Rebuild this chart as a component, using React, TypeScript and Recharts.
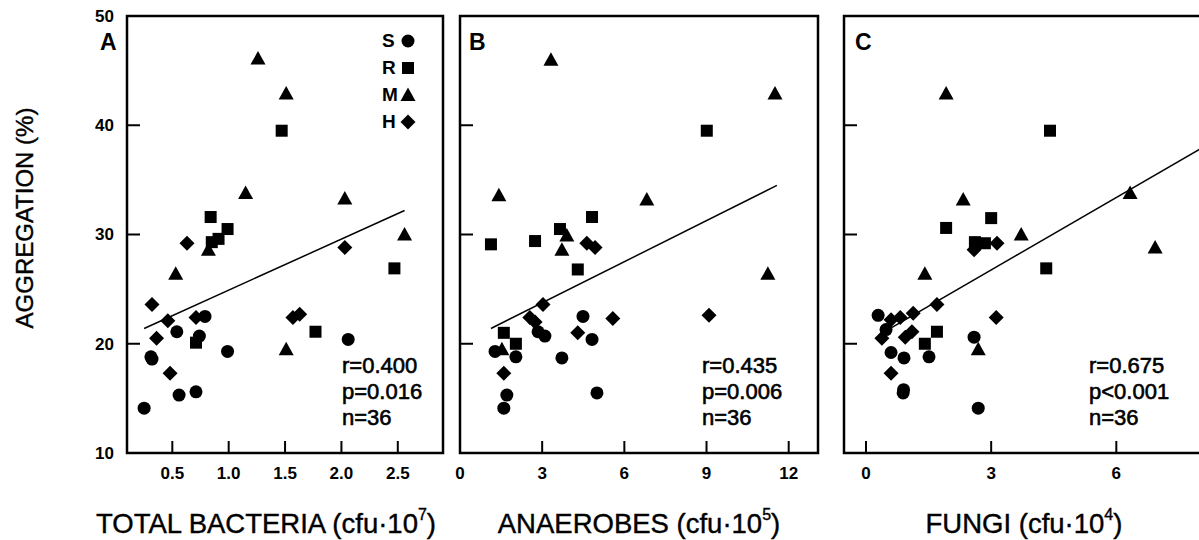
import React from 'react';
import {
  ScatterChart,
  Scatter,
  XAxis,
  YAxis,
  ReferenceLine,
  ReferenceArea,
  Legend,
} from 'recharts';

const FONT = '"Liberation Sans", Arial, Helvetica, sans-serif';

type Pt = { x: number; y: number };
type Kind = 'S' | 'R' | 'M' | 'H';

const groups: Kind[] = ['S', 'R', 'M', 'H'];

// A: aggregation (%) vs total bacteria (cfu·10^7)
const bactS: Pt[] = [
  { x: 0.25, y: 14.1 }, { x: 0.31, y: 18.8 }, { x: 0.32, y: 18.6 }, { x: 0.56, y: 15.3 },
  { x: 0.71, y: 15.6 }, { x: 0.54, y: 21.1 }, { x: 0.74, y: 20.7 }, { x: 0.79, y: 22.5 },
  { x: 0.99, y: 19.3 }, { x: 2.06, y: 20.4 },
];
const bactR: Pt[] = [
  { x: 1.47, y: 39.5 }, { x: 0.84, y: 31.6 }, { x: 0.99, y: 30.5 }, { x: 0.85, y: 29.3 },
  { x: 0.91, y: 29.6 }, { x: 2.47, y: 26.9 }, { x: 1.77, y: 21.1 }, { x: 0.71, y: 20.1 },
];
const bactM: Pt[] = [
  { x: 1.26, y: 46.1 }, { x: 1.51, y: 42.9 }, { x: 1.15, y: 33.8 }, { x: 2.03, y: 33.3 },
  { x: 2.56, y: 30.0 }, { x: 0.82, y: 28.6 }, { x: 0.53, y: 26.4 }, { x: 1.51, y: 19.5 },
];
const bactH: Pt[] = [
  { x: 0.63, y: 29.2 }, { x: 2.03, y: 28.8 }, { x: 0.32, y: 23.6 }, { x: 0.46, y: 22.1 },
  { x: 0.36, y: 20.5 }, { x: 0.48, y: 17.3 }, { x: 0.71, y: 22.4 }, { x: 1.57, y: 22.4 },
  { x: 1.63, y: 22.7 },
];
const bactFit: Pt[] = [{ x: 0.25, y: 21.4 }, { x: 2.56, y: 32.2 }];

// B: anaerobes (cfu·10^5)
const anaS: Pt[] = [
  { x: 4.49, y: 22.5 }, { x: 2.85, y: 21.1 }, { x: 3.1, y: 20.7 }, { x: 4.82, y: 20.4 },
  { x: 1.28, y: 19.3 }, { x: 2.04, y: 18.8 }, { x: 3.72, y: 18.7 }, { x: 5.0, y: 15.5 },
  { x: 1.71, y: 15.3 }, { x: 1.6, y: 14.1 },
];
const anaR: Pt[] = [
  { x: 9.01, y: 39.5 }, { x: 4.82, y: 31.6 }, { x: 3.65, y: 30.5 }, { x: 2.74, y: 29.4 },
  { x: 1.13, y: 29.1 }, { x: 4.3, y: 26.8 }, { x: 1.6, y: 21.0 }, { x: 2.04, y: 20.0 },
];
const anaM: Pt[] = [
  { x: 3.32, y: 46.0 }, { x: 11.5, y: 42.9 }, { x: 1.42, y: 33.6 }, { x: 6.82, y: 33.2 },
  { x: 3.9, y: 29.9 }, { x: 3.72, y: 28.6 }, { x: 11.24, y: 26.4 }, { x: 1.53, y: 19.5 },
];
const anaH: Pt[] = [
  { x: 4.63, y: 29.2 }, { x: 4.93, y: 28.8 }, { x: 3.03, y: 23.6 }, { x: 2.55, y: 22.4 },
  { x: 2.74, y: 22.0 }, { x: 5.58, y: 22.3 }, { x: 9.09, y: 22.6 }, { x: 4.3, y: 21.0 },
  { x: 1.6, y: 17.3 },
];
const anaFit: Pt[] = [{ x: 1.13, y: 21.4 }, { x: 11.57, y: 34.5 }];

// C: fungi (cfu·10^4)
const fungiS: Pt[] = [
  { x: 0.29, y: 22.6 }, { x: 0.48, y: 21.3 }, { x: 2.59, y: 20.6 }, { x: 0.6, y: 19.2 },
  { x: 0.91, y: 18.7 }, { x: 1.51, y: 18.8 }, { x: 0.89, y: 15.5 }, { x: 0.9, y: 15.8 },
  { x: 2.69, y: 14.1 },
];
const fungiR: Pt[] = [
  { x: 4.41, y: 39.5 }, { x: 3.0, y: 31.5 }, { x: 1.92, y: 30.6 }, { x: 2.61, y: 29.3 },
  { x: 2.85, y: 29.2 }, { x: 4.32, y: 26.9 }, { x: 1.7, y: 21.1 }, { x: 1.41, y: 20.0 },
];
const fungiM: Pt[] = [
  { x: 1.92, y: 42.9 }, { x: 2.33, y: 33.2 }, { x: 6.33, y: 33.8 }, { x: 3.72, y: 30.0 },
  { x: 6.93, y: 28.8 }, { x: 1.41, y: 26.4 }, { x: 2.69, y: 19.5 },
];
const fungiH: Pt[] = [
  { x: 3.14, y: 29.2 }, { x: 2.59, y: 28.6 }, { x: 1.7, y: 23.6 }, { x: 1.13, y: 22.8 },
  { x: 3.12, y: 22.4 }, { x: 0.82, y: 22.4 }, { x: 0.6, y: 22.2 }, { x: 0.38, y: 20.5 },
  { x: 1.1, y: 21.1 }, { x: 0.94, y: 20.6 }, { x: 0.6, y: 17.3 },
];
const fungiFit: Pt[] = [{ x: 0.53, y: 21.3 }, { x: 8.0, y: 37.8 }];

const yTicks = [10, 20, 30, 40, 50];
const bactTicks = [0.5, 1.0, 1.5, 2.0, 2.5];
const anaTicks = [0, 3, 6, 9, 12];
const fungiTicks = [0, 3, 6];

const Marker = ({ kind, cx, cy }: { kind: Kind; cx: number; cy: number }) => {
  if (kind === 'S') return <circle cx={cx} cy={cy} r={6.5} fill="#000" />;
  if (kind === 'R') return <rect x={cx - 6} y={cy - 6} width={12} height={12} fill="#000" />;
  if (kind === 'M')
    return <polygon points={`${cx},${cy - 7.5} ${cx + 7.5},${cy + 6} ${cx - 7.5},${cy + 6}`} fill="#000" />;
  return <polygon points={`${cx},${cy - 7.5} ${cx + 7.5},${cy} ${cx},${cy + 7.5} ${cx - 7.5},${cy}`} fill="#000" />;
};

const shapeOf = (kind: Kind) => (p: any) => <Marker kind={kind} cx={p.cx} cy={p.cy} />;

const xTick = (fmt: (v: number) => string) => (p: any) => (
  <g>
    <line x1={p.x} x2={p.x} y1={p.y} y2={p.y - 12} stroke="#000" strokeWidth={2} />
    <text x={p.x} y={p.y + 26} textAnchor="middle" fontFamily={FONT} fontSize={17} fontWeight="bold" fill="#000">
      {fmt(p.payload.value)}
    </text>
  </g>
);

const yTick = (showLabel: boolean) => (p: any) => (
  <g>
    <line x1={p.x} x2={p.x + 13} y1={p.y} y2={p.y} stroke="#000" strokeWidth={2} />
    {showLabel && (
      <text x={p.x - 13} y={p.y} dy="0.35em" textAnchor="end" fontFamily={FONT} fontSize={17} fontWeight="bold" fill="#000">
        {p.payload.value}
      </text>
    )}
  </g>
);

const LegendRows = (props: any) => {
  const rows = [...(props.payload || [])].sort(
    (a: any, b: any) => groups.indexOf(a.value) - groups.indexOf(b.value)
  );
  return (
    <div style={{ fontFamily: FONT, fontWeight: 'bold', fontSize: 19, lineHeight: '27px', color: '#000' }}>
      {rows.map((e: any) => (
        <div key={e.value} style={{ display: 'flex', alignItems: 'center', height: 27 }}>
          <span style={{ width: 18, fontSize: 19 }}>{e.value}</span>
          <svg width={16} height={16}>
            <Marker kind={e.value} cx={8} cy={8} />
          </svg>
        </div>
      ))}
    </div>
  );
};

type PanelProps = {
  left: number;
  width: number;
  axisW: number;
  rightM: number;
  xDomain: [number, number];
  xTicks: number[];
  fmt: (v: number) => string;
  S: Pt[];
  R: Pt[];
  M: Pt[];
  H: Pt[];
  fit: Pt[];
  showY: boolean;
  legend?: boolean;
};

const Panel = (p: PanelProps) => (
  <div style={{ position: 'absolute', left: p.left, top: 0 }}>
    <ScatterChart width={p.width} height={540} margin={{ top: 16, right: p.rightM, bottom: 0, left: 0 }}>
      <XAxis
        type="number"
        dataKey="x"
        domain={p.xDomain}
        allowDataOverflow
        ticks={p.xTicks}
        interval={0}
        height={87}
        axisLine={false}
        tickLine={false}
        tickSize={0}
        tickMargin={0}
        tick={xTick(p.fmt)}
      />
      <YAxis
        type="number"
        dataKey="y"
        domain={[10, 50]}
        allowDataOverflow
        ticks={yTicks}
        interval={0}
        width={p.axisW}
        axisLine={false}
        tickLine={false}
        tickSize={0}
        tickMargin={0}
        tick={yTick(p.showY)}
      />
      <ReferenceArea
        x1={p.xDomain[0]}
        x2={p.xDomain[1]}
        y1={10}
        y2={50}
        fill="none"
        fillOpacity={0}
        stroke="#000"
        strokeWidth={2.5}
        strokeOpacity={1}
      />
      <ReferenceLine segment={p.fit} stroke="#000" strokeWidth={1.5} />
      <Scatter name="S" data={p.S} shape={shapeOf('S')} fill="#000" isAnimationActive={false} />
      <Scatter name="R" data={p.R} shape={shapeOf('R')} fill="#000" isAnimationActive={false} />
      <Scatter name="M" data={p.M} shape={shapeOf('M')} fill="#000" isAnimationActive={false} />
      <Scatter name="H" data={p.H} shape={shapeOf('H')} fill="#000" isAnimationActive={false} />
      {p.legend && (
        <Legend
          layout="vertical"
          verticalAlign="top"
          align="left"
          content={LegendRows}
          wrapperStyle={{ left: 382, top: 27, right: 'auto', bottom: 'auto', width: 40 }}
        />
      )}
    </ScatterChart>
  </div>
);

const Stats = ({ x, r, pv }: { x: number; r: string; pv: string }) => (
  <text fontFamily={FONT} fontSize={22} fill="#000" stroke="#000" strokeWidth={0.6}>
    <tspan x={x} y={373}>{r}</tspan>
    <tspan x={x} y={399}>{pv}</tspan>
    <tspan x={x} y={425}>n=36</tspan>
  </text>
);

const Title = ({ x, label, exp }: { x: number; label: string; exp: string }) => (
  <text x={x} y={533} textAnchor="middle" fontFamily={FONT} fontSize={27.5} fill="#000" stroke="#000" strokeWidth={0.4}>
    {label}
    <tspan fontSize={16} dy={-13}>{exp}</tspan>
    <tspan dy={13}>)</tspan>
  </text>
);

export default function App() {
  return (
    <div
      style={{
        position: 'absolute',
        left: 0,
        top: 0,
        width: 1199,
        height: 540,
        overflow: 'hidden',
        background: '#fff',
      }}
    >
      <Panel
        left={0} width={450} axisW={87} rightM={7}
        xDomain={[0.098, 2.901]} xTicks={bactTicks} fmt={(v) => v.toFixed(1)}
        S={bactS} R={bactR} M={bactM} H={bactH} fit={bactFit} showY legend
      />
      <Panel
        left={450} width={380} axisW={10} rightM={12}
        xDomain={[0, 13.07]} xTicks={anaTicks} fmt={(v) => String(v)}
        S={anaS} R={anaR} M={anaM} H={anaH} fit={anaFit} showY={false}
      />
      <Panel
        left={830} width={380} axisW={14} rightM={9}
        xDomain={[-0.528, 8.03]} xTicks={fungiTicks} fmt={(v) => String(v)}
        S={fungiS} R={fungiR} M={fungiM} H={fungiH} fit={fungiFit} showY={false}
      />
      <svg
        width={1199}
        height={540}
        style={{ position: 'absolute', left: 0, top: 0, pointerEvents: 'none' }}
      >
        <g fontFamily={FONT} fontSize={23} fontWeight="bold" fill="#000">
          <text x={100} y={50}>A</text>
          <text x={469} y={50}>B</text>
          <text x={855} y={50}>C</text>
        </g>
        <Stats x={342} r="r=0.400" pv="p=0.016" />
        <Stats x={702} r="r=0.435" pv="p=0.006" />
        <Stats x={1089} r="r=0.675" pv="p<0.001" />
        <Title x={266} label="TOTAL BACTERIA (cfu·10" exp="7" />
        <Title x={639} label="ANAEROBES (cfu·10" exp="5" />
        <Title x={1024} label="FUNGI (cfu·10" exp="4" />
        <text
          x={25}
          y={218}
          transform="rotate(-90 25 218)"
          textAnchor="middle"
          dy="0.35em"
          fontFamily={FONT}
          fontSize={24}
          fill="#000"
          stroke="#000"
          strokeWidth={0.4}
        >
          AGGREGATION (%)
        </text>
      </svg>
    </div>
  );
}
